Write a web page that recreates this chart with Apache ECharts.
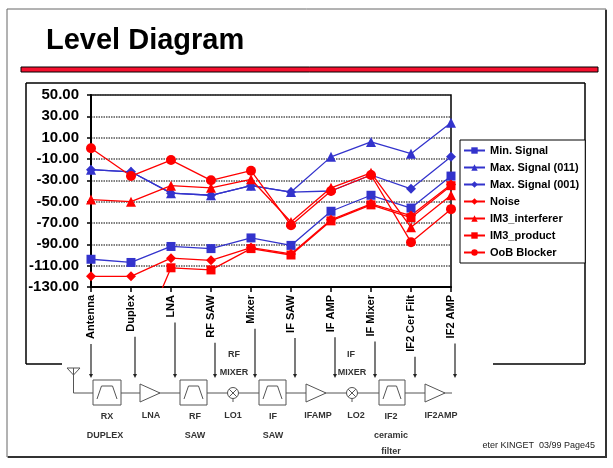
<!DOCTYPE html>
<html><head><meta charset="utf-8">
<script src="https://cdn.jsdelivr.net/npm/echarts@6/dist/echarts.min.js"></script>
<style>html,body{margin:0;padding:0;background:#fff;}#c{width:613px;height:468px;}</style>
</head><body><div id="c"></div>
<script>
const categories = ['Antenna','Duplex','LNA','RF SAW','Mixer','IF SAW','IF AMP','IF Mixer','IF2 Cer Filt','IF2 AMP'];
const yTicks = {min: -130, max: 50, interval: 20};
const minSignal     = [-104, -107, -92, -94, -84, -91, -59, -44, -56, -26];
const maxSignal011  = [-20, -22, -42, -44, -35, -41, -8, 6, -5, 24];
const maxSignal001  = [-20, -22, -42, -44, -35, -41, -40, -25, -38, -8];
const noise         = [-120, -120, -103, -105, -93, -99, -67, -52, -63, -34];
const im3Interferer = [-48, -50, -35, -37, -29, -69, -37, -23, -74, -44];
const im3Product    = [-200, -200, -112, -114, -94, -100, -68, -53, -65, -35];
const oobBlocker    = [0, -26, -11, -30, -21, -72, -40, -25, -88, -57];

const BLUE = '#3333CC', RED = '#FF0000';
function mk(name, data, color, symbol, size) {
  return { name, type: 'line', data, symbol, symbolSize: size, clip: true,
    itemStyle: { color }, lineStyle: { color, width: 1.3 }, emphasis: { disabled: true } };
}
const chart = echarts.init(document.getElementById('c'));
const LBL = 'bold 11px "Liberation Sans"';
chart.setOption({
  animation: false,
  backgroundColor: '#fff',
  grid: { left: 91, top: 95, width: 360, height: 192, show: true, borderColor: '#000', borderWidth: 1.5, backgroundColor: 'transparent' },
  legend: {
    orient: 'vertical', left: 460, top: 140, padding: [4, 6, 4, 3], itemGap: 4,
    itemWidth: 21, itemHeight: 8, borderColor: '#000', borderWidth: 1, backgroundColor: '#fff',
    textStyle: { fontFamily: 'Liberation Sans', fontWeight: 'bold', fontSize: 11, color: '#000', lineHeight: 13 },
    data: ['Min. Signal','Max. Signal (011)','Max. Signal (001)','Noise','IM3_interferer','IM3_product','OoB Blocker']
  },
  xAxis: {
    type: 'category', data: categories, boundaryGap: false,
    axisLine: { onZero: false, lineStyle: { color: '#000', width: 2 } },
    axisTick: { show: true, length: 5, lineStyle: { color: '#000', width: 1.5 } },
    axisLabel: { interval: 0, rotate: 90, margin: 8, fontFamily: 'Liberation Sans', fontWeight: 'bold', fontSize: 11, color: '#000' },
    splitLine: { show: false }
  },
  yAxis: {
    type: 'value', min: yTicks.min, max: yTicks.max, interval: yTicks.interval,
    axisLine: { show: true, lineStyle: { color: '#000', width: 2 } },
    axisTick: { show: true, length: 4, lineStyle: { color: '#000', width: 1.5 } },
    axisLabel: { margin: 12, fontFamily: 'Liberation Sans', fontWeight: 'bold', fontSize: 15, color: '#000', formatter: v => v.toFixed(2) },
    splitLine: { show: true, lineStyle: { color: '#555', width: 1.6, type: [1.5, 1] } }
  },
  series: [
    mk('Min. Signal', minSignal, BLUE, 'rect', 9),
    mk('Max. Signal (011)', maxSignal011, BLUE, 'triangle', 10),
    mk('Max. Signal (001)', maxSignal001, BLUE, 'diamond', 10),
    mk('Noise', noise, RED, 'diamond', 10),
    mk('IM3_interferer', im3Interferer, RED, 'triangle', 10),
    mk('IM3_product', im3Product, RED, 'rect', 9),
    mk('OoB Blocker', oobBlocker, RED, 'circle', 10)
  ]
});

// ---- decorations: slide frame, title, block diagram ----
const G = [];
const GRAY = '#555';
function line(x1, y1, x2, y2, stroke, w) { G.push({ type: 'line', silent: true, shape: { x1, y1, x2, y2 }, style: { stroke: stroke || GRAY, lineWidth: w || 1 } }); }
function text(t, x, y, font, fill, align) { G.push({ type: 'text', silent: true, x, y, style: { text: t, font, fill: fill || '#000', align: align || 'center', verticalAlign: 'middle' } }); }

// slide frame
G.push({ type: 'rect', silent: true, shape: { x: 7, y: 9, width: 599, height: 448 }, style: { fill: null, stroke: '#666', lineWidth: 1 } });
line(8, 457, 607, 457, '#333', 2); line(606, 10, 606, 457, '#333', 2);
// title and red bar
text('Level Diagram', 46, 41, 'bold 29px "Liberation Sans"', '#000', 'left');
G.push({ type: 'rect', silent: true, shape: { x: 21, y: 67, width: 577, height: 5 }, style: { fill: '#F5102E', stroke: '#000', lineWidth: 1 } });
// chart box
line(26, 83, 585, 83, '#000', 1.5); line(26, 83, 26, 364, '#000', 1.5); line(585, 83, 585, 364, '#000', 1.5);
line(26, 364, 62, 364, '#000', 1.5); line(493, 364, 585, 364, '#000', 1.5);

// drop lines from category labels down to the block diagram
const cv = document.createElement('canvas').getContext('2d');
cv.font = LBL;
const axisY = chart.convertToPixel({ yAxisIndex: 0 }, yTicks.min);
categories.forEach((c, i) => {
  const px = chart.convertToPixel({ xAxisIndex: 0 }, c) + (i === 0 ? 0 : 4);
  const top = axisY + 8 + cv.measureText(c).width + 5;
  line(px, top, px, 376, '#222', 1.2);
  G.push({ type: 'polygon', silent: true, shape: { points: [[px - 2, 374], [px + 2, 374], [px, 378]] }, style: { fill: '#222' } });
});

// signal path
const PY = 393;
line(73.5, PY, 452, PY);
// antenna
G.push({ type: 'polygon', silent: true, shape: { points: [[67, 368], [80, 368], [73.5, 375]] }, style: { fill: '#fff', stroke: GRAY, lineWidth: 1 } });
line(73.5, 368, 73.5, PY);
function filt(x, w) {
  G.push({ type: 'rect', silent: true, shape: { x, y: 380, width: w, height: 25 }, style: { fill: '#fff', stroke: GRAY, lineWidth: 1 } });
  G.push({ type: 'polyline', silent: true, shape: { points: [[x + 4, 399], [x + 8.5, 386], [x + w - 8.5, 386], [x + w - 4, 399]] }, style: { fill: null, stroke: GRAY, lineWidth: 1 } });
}
function amp(x) { G.push({ type: 'polygon', silent: true, shape: { points: [[x, 384], [x, 402], [x + 20, PY]] }, style: { fill: '#fff', stroke: GRAY, lineWidth: 1 } }); }
function mixer(cx) {
  G.push({ type: 'circle', silent: true, shape: { cx, cy: PY, r: 5.5 }, style: { fill: '#fff', stroke: GRAY, lineWidth: 1 } });
  line(cx - 3.8, PY - 3.8, cx + 3.8, PY + 3.8); line(cx - 3.8, PY + 3.8, cx + 3.8, PY - 3.8);
  line(cx, PY + 5.5, cx, 402);
}
filt(93, 28); amp(140); filt(180, 27); mixer(233); filt(259, 27); amp(306); mixer(352); filt(379, 26); amp(425);

const BF = 'bold 9px "Liberation Sans"', TC = '#333';
text('RX', 107, 417, BF, TC); text('DUPLEX', 105, 436, BF, TC);
text('LNA', 151, 416, BF, TC);
text('RF', 195, 417, BF, TC); text('SAW', 195, 436, BF, TC);
text('LO1', 233, 416, BF, TC);
text('IF', 273, 417, BF, TC); text('SAW', 273, 436, BF, TC);
text('IFAMP', 318, 416, BF, TC);
text('LO2', 356, 416, BF, TC);
text('IF2', 391, 417, BF, TC); text('ceramic', 391, 436, BF, TC); text('filter', 391, 452, BF, TC);
text('IF2AMP', 441, 416, BF, TC);
text('RF', 234, 355, BF, TC); text('MIXER', 234, 373, BF, TC);
text('IF', 351, 355, BF, TC); text('MIXER', 352, 373, BF, TC);
text('eter KINGET  03/99 Page45', 595, 446, '9px "Liberation Sans"', '#222', 'right');

chart.setOption({ graphic: { elements: G } });
</script></body></html>
